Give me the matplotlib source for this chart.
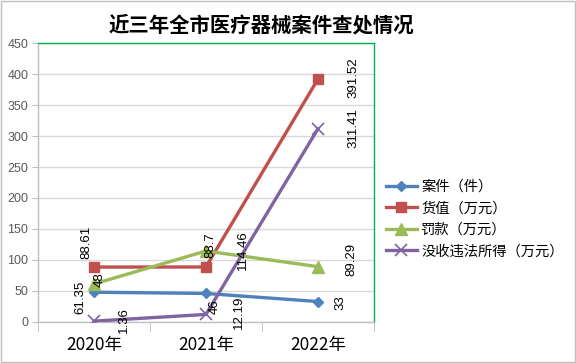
import matplotlib
matplotlib.use("Agg")
import matplotlib.pyplot as plt
from matplotlib.patches import Rectangle

plt.rcParams['font.family'] = ['Noto Sans CJK SC', 'DejaVu Sans']

years = ["2020年", "2021年", "2022年"]
cases = [48, 46, 33]
goods = [88.61, 88.7, 391.52]
fines = [61.35, 114.46, 89.29]
confisc = [1.36, 12.19, 311.41]
series_names = ["案件（件）", "货值（万元）", "罚款（万元）", "没收违法所得（万元）"]
yticks = [0, 50, 100, 150, 200, 250, 300, 350, 400, 450]

colors = ["#4F81BD", "#C0504D", "#9BBB59", "#8064A2"]
markers = ["D", "s", "^", "x"]
msizes = [5.5, 7, 8, 8]

# label offsets (layout only), in data units (dx, dy)
offsets = [
    [(0.054, 20), (0.08, -22), (0.205, -1)],
    [(-0.071, 40), (0.036, 35), (0.32, 2)],
    [(-0.125, -21), (0.33, 2), (0.295, 11)],
    [(0.268, 2), (0.295, 4), (0.32, 2)],
]

fig = plt.figure(figsize=(5.76, 3.63), dpi=100)
ax = fig.add_axes([0.066, 0.113, 0.583, 0.7685])

x = list(range(len(years)))
all_series = [cases, goods, fines, confisc]
for vals, c, m, ms, name, offs in zip(all_series, colors, markers, msizes, series_names, offsets):
    ax.plot(x, vals, color=c, lw=2.4, marker=m, ms=ms, mew=1.2 if m == "x" else 1,
            mfc=c, mec=c, label=name, zorder=3)
    for xi, v, (dx, dy) in zip(x, vals, offs):
        ax.text(xi + dx, v + dy, f"{v:g}", rotation=90, ha="center", va="center",
                fontsize=9.5, family=["Liberation Sans"], color="black", zorder=4)

ax.set_xlim(-0.5, 2.5)
ax.set_ylim(0, 450)
ax.set_yticks(yticks)
ax.set_yticklabels([str(t) for t in yticks], fontsize=9, color="#595959",
                   family=["Liberation Sans"])
ax.set_xticks(x)
ax.set_xticklabels(years, fontsize=12.5, color="black")
ax.tick_params(axis="x", length=0, pad=10)
ax.set_xticks([-0.5, 0.5, 1.5, 2.5], minor=True)
ax.tick_params(axis="x", which="minor", length=7, color="#BFBFBF")
ax.tick_params(axis="y", length=4, color="#BFBFBF", pad=3)
ax.grid(axis="y", color="#D9D9D9", lw=1)
ax.set_axisbelow(True)

ax.spines["left"].set_color("#BFBFBF")
ax.spines["bottom"].set_color("#BFBFBF")
ax.spines["top"].set_color("#00B050")
ax.spines["right"].set_color("#00B050")
for s in ax.spines.values():
    s.set_linewidth(1)

fig.suptitle("近三年全市医疗器械案件查处情况", x=0.453, y=0.96, fontsize=14.7,
             fontweight="bold")

leg = fig.legend(loc="upper left", bbox_to_anchor=(0.647, 0.54), frameon=False,
                 fontsize=10.3, handlelength=2.2, labelspacing=0.52, handletextpad=0.3)

fig.patches.append(Rectangle((0.001, 0.002), 0.997, 0.995, transform=fig.transFigure,
                             fill=False, ec="#BFBFBF", lw=1))

fig.savefig("out.png", dpi=100)
